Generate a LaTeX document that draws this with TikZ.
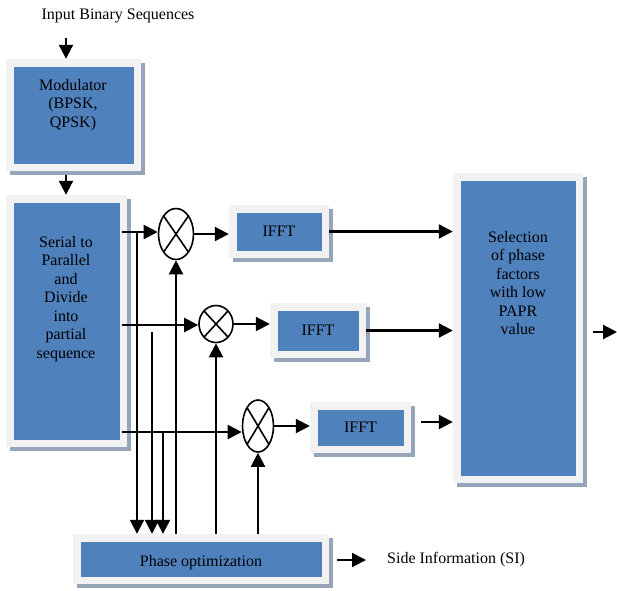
\documentclass[tikz,border=0pt]{standalone}
\usepackage{fontspec}
\setmainfont{Liberation Serif}
\usetikzlibrary{shapes.geometric,arrows.meta,shadows}
\definecolor{blueC}{HTML}{4F81BD}
\definecolor{frameC}{HTML}{F2F2F2}
\definecolor{shadowC}{HTML}{96A5BA}
\begin{document}
\begin{tikzpicture}[x=1pt,y=-1pt,
  txt/.style={font=\fontsize{16}{18.5}\selectfont, align=center, inner sep=0pt},
  blk/.style={rectangle, fill=frameC, inner sep=0pt, font=\fontsize{16}{18.5}\selectfont,
    drop shadow={shadow xshift=3.5pt, shadow yshift=-4pt, fill=shadowC, opacity=1},
    path picture={\fill[blueC] ([shift={(7.5pt,-7.5pt)}]path picture bounding box.north west) rectangle ([shift={(-7.5pt,7.5pt)}]path picture bounding box.south east);}},
  mult/.style={ellipse, draw, line width=1.6pt, inner sep=0pt, fill=white,
    path picture={\draw[line width=1.6pt] (path picture bounding box.north west) -- (path picture bounding box.south east) (path picture bounding box.north east) -- (path picture bounding box.south west);}},
  arr/.style={line width=2.2pt, -{Triangle[length=14pt,width=14pt]}}]
\useasboundingbox (0,0) rectangle (617,590);

% boxes
\node[blk, minimum width=135, minimum height=112] (mod) at (73.5,115) {};
\node[txt] (modt) at (73,105) {Modulator\\(BPSK,\\QPSK)};
\node[blk, minimum width=121, minimum height=252] (sp) at (66.5,321) {};
\node[txt] (spt) at (66,299) {Serial to\\Parallel\\and\\Divide\\into\\partial\\sequence};
\node[blk, minimum width=100, minimum height=53] (f1) at (279,231.5) {IFFT};
\node[blk, minimum width=96, minimum height=55] (f2) at (318,330.5) {IFFT};
\node[blk, minimum width=101, minimum height=51] (f3) at (360.5,427.5) {IFFT};
\node[blk, minimum width=130, minimum height=310] (sel) at (518,328) {};
\node[txt] (selt) at (518,283) {Selection\\of phase\\factors\\with low\\PAPR\\value};
\node[blk, minimum width=256, minimum height=50] (ph) at (201,559) {\raisebox{-7pt}[0pt][0pt]{Phase optimization}};
\node[txt, anchor=west] (si) at (387,560) {Side Information (SI)};
\node[txt] (inp) at (118,16) {Input Binary Sequences};

% multipliers
\node[mult, minimum width=35, minimum height=51] (c1) at (176,234) {};
\node[mult, minimum width=34, minimum height=37] (c2) at (216,324) {};
\node[mult, minimum width=31, minimum height=52] (c3) at (258,426) {};

% coordinates
\coordinate (i0) at (66,38);
\coordinate (m0) at (66,175);
\coordinate (r1) at (122,232);
\coordinate (r2) at (122,325);
\coordinate (r3) at (122,432);
\coordinate (d1) at (137,232);
\coordinate (d2) at (152,332);
\coordinate (d3) at (163,432);
\coordinate (a3) at (421,422);
\coordinate (o0) at (593,332);
\coordinate (o1) at (617,332);
\coordinate (s0) at (337,560);
\coordinate (s1) at (366,560);

% connectors
\draw[arr] (i0) -- (i0 |- mod.north);
\draw[arr] (m0) -- (m0 |- sp.north);
\draw[arr] (r1) -- (r1 -| c1.west);
\draw[arr] (r2) -- (r2 -| c2.west);
\draw[arr] (r3) -- (r3 -| c3.west);
\draw[arr] (c1.east) -- (c1.east -| f1.west);
\draw[arr] (c2.east) -- (c2.east -| f2.west);
\draw[arr] (c3.east) -- (c3.east -| f3.west);
\draw[arr] (f1.east) -- (f1.east -| sel.west);
\draw[arr] (f2.east) -- (f2.east -| sel.west);
\draw[arr] (a3) -- (a3 -| sel.west);
\draw[arr] (o0) -- (o1);
\draw[arr] (s0) -- (s1);

\draw[arr] (d1) -- (d1 |- ph.north);
\draw[arr] (d2) -- (d2 |- ph.north);
\draw[arr] (d3) -- (d3 |- ph.north);
\draw[arr] (c1.south |- ph.north) -- (c1.south);
\draw[arr] (c2.south |- ph.north) -- (c2.south);
\draw[arr] (c3.south |- ph.north) -- (c3.south);
\end{tikzpicture}
\end{document}
